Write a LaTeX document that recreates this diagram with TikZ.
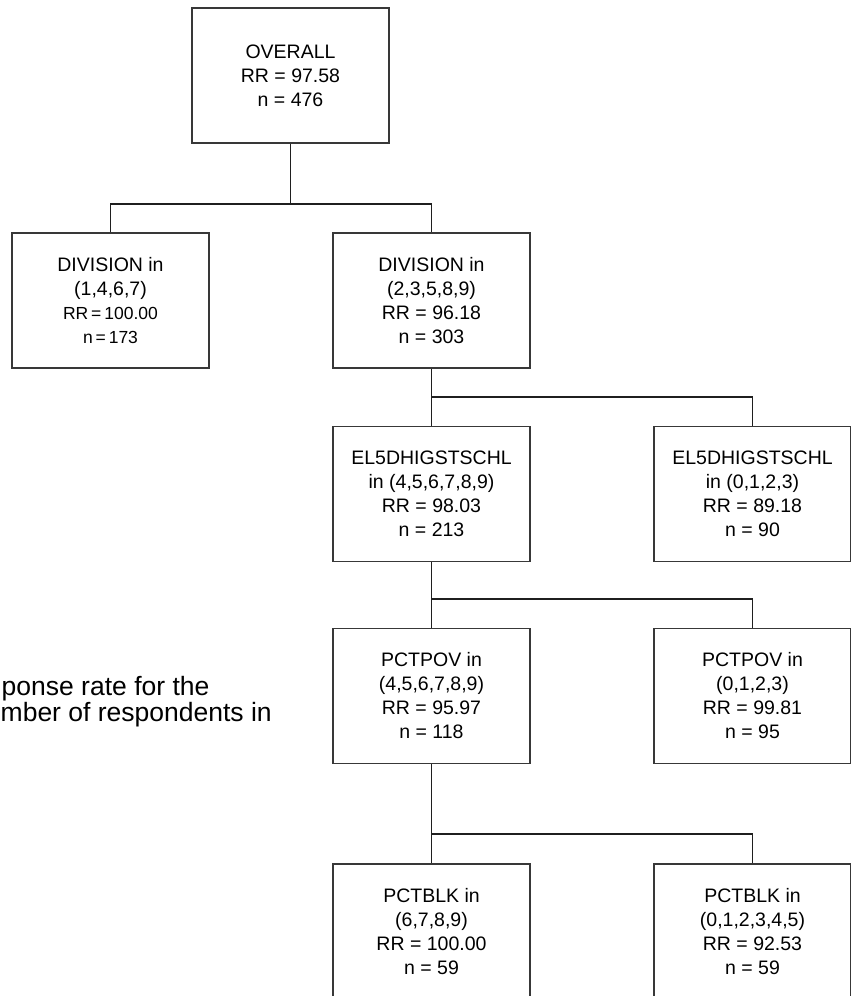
\documentclass[tikz,border=0pt]{standalone}
\usepackage{fontspec}
\setmainfont{Liberation Sans}
\begin{document}
\begin{tikzpicture}[x=1pt,y=-1pt,
  box/.style={draw=black!78, line width=1.5pt, minimum width=197pt, minimum height=135pt,
    align=center, inner sep=0pt, font=\fontsize{19.5}{24}\selectfont, text=black},
  link/.style={draw=black!88, line width=1.5pt},
  side/.style={font=\fontsize{26.5}{30}\selectfont, text=black, inner sep=0pt}]
\useasboundingbox (0,0) rectangle (851,996);
\clip (0,0) rectangle (851,996);
\node[box] (root) at (290.5,75.5) {OVERALL\\RR = 97.58\\n = 476};
\node[box] (d1) at (110.5,300.5) {DIVISION in\\(1,4,6,7)\\{\fontsize{17.5}{24}\selectfont RR\,=\,100.00}\\{\fontsize{17.5}{24}\selectfont n\,=\,173}};
\node[box] (d2) at (431.5,300.5) {DIVISION in\\(2,3,5,8,9)\\RR = 96.18\\n = 303};
\node[box] (e1) at (431.5,494) {EL5DHIGSTSCHL\\in (4,5,6,7,8,9)\\RR = 98.03\\n = 213};
\node[box] (e2) at (752.5,494) {EL5DHIGSTSCHL\\in (0,1,2,3)\\RR = 89.18\\n = 90};
\node[box] (p1) at (431.5,696) {PCTPOV in\\(4,5,6,7,8,9)\\RR = 95.97\\n = 118};
\node[box] (p2) at (752.5,696) {PCTPOV in\\(0,1,2,3)\\RR = 99.81\\n = 95};
\node[box] (b1) at (431.5,931.5) {PCTBLK in\\(6,7,8,9)\\RR = 100.00\\n = 59};
\node[box] (b2) at (752.5,931.5) {PCTBLK in\\(0,1,2,3,4,5)\\RR = 92.53\\n = 59};
\draw[link] (root.south) -- ++(0,60) coordinate (j1);
\draw[link] (d1.north) |- (j1) -| (d2.north);
\draw[link] (d2.south) -- ++(0,28) coordinate (j2);
\draw[link] (j2) -- (e1.north);
\draw[link] (j2) -| (e2.north);
\draw[link] (e1.south) -- ++(0,36.5) coordinate (j3);
\draw[link] (j3) -- (p1.north);
\draw[link] (j3) -| (p2.north);
\draw[link] (p1.south) -- ++(0,69.5) coordinate (j4);
\draw[link] (j4) -- (b1.north);
\draw[link] (j4) -| (b2.north);
\node[side, anchor=base west] (t1) at (1.5,695) {ponse rate for the};
\node[side, anchor=base west] (t2) at (0.5,721) {mber of respondents in};
\end{tikzpicture}
\end{document}
